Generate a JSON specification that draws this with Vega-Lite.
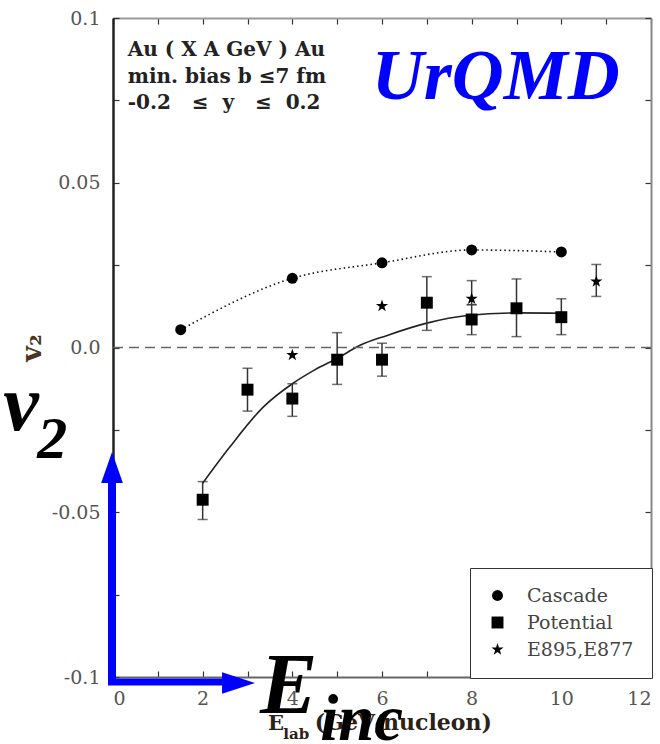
{
  "$schema": "https://vega.github.io/schema/vega-lite/v6.json",
  "width": 538,
  "height": 659,
  "autosize": {"type": "none"},
  "padding": {"left": 113, "top": 18, "right": 9, "bottom": 67},
  "background": "white",
  "config": {
    "view": {"stroke": null},
    "font": "DejaVu Serif",
    "axis": {"grid": false, "labelFont": "DejaVu Serif", "labelFontSize": 19, "labelColor": "#555", "tickSize": -6, "tickColor": "#333", "tickWidth": 1.2},
    "legend": {"orient": "none", "legendX": 357, "legendY": 550, "padding": 18, "strokeColor": "#333", "fillColor": "white", "labelFont": "DejaVu Serif", "labelFontSize": 19, "labelColor": "#444", "symbolFillColor": "black", "symbolStrokeColor": "black", "symbolStrokeWidth": 0, "rowPadding": 7, "labelOffset": 20}
  },
  "datasets": {
    "pts": [
      {"series": "Cascade", "x": 1.51, "y": 0.0054},
      {"series": "Cascade", "x": 4, "y": 0.021},
      {"series": "Cascade", "x": 6, "y": 0.0257},
      {"series": "Cascade", "x": 8, "y": 0.0296},
      {"series": "Cascade", "x": 10, "y": 0.029},
      {"series": "Potential", "x": 2, "y": -0.0462, "lo": -0.0522, "hi": -0.0407},
      {"series": "Potential", "x": 3, "y": -0.0128, "lo": -0.0193, "hi": -0.0063},
      {"series": "Potential", "x": 4, "y": -0.0155, "lo": -0.0209, "hi": -0.011},
      {"series": "Potential", "x": 5, "y": -0.0037, "lo": -0.0112, "hi": 0.0045},
      {"series": "Potential", "x": 6, "y": -0.0037, "lo": -0.0087, "hi": 0.0013},
      {"series": "Potential", "x": 7, "y": 0.0136, "lo": 0.0052, "hi": 0.0215},
      {"series": "Potential", "x": 8, "y": 0.0085, "lo": 0.0039, "hi": 0.013},
      {"series": "Potential", "x": 9, "y": 0.0119, "lo": 0.0033, "hi": 0.0208},
      {"series": "Potential", "x": 10, "y": 0.0092, "lo": 0.0039, "hi": 0.0148},
      {"series": "E895,E877", "x": 4, "y": -0.0023},
      {"series": "E895,E877", "x": 6, "y": 0.0126},
      {"series": "E895,E877", "x": 8, "y": 0.0148, "lo": 0.013, "hi": 0.0203},
      {"series": "E895,E877", "x": 10.78, "y": 0.02, "lo": 0.0155, "hi": 0.0252}
    ],
    "fit": [
      {"x": 2, "y": -0.0412},
      {"x": 2.6, "y": -0.0303},
      {"x": 3.35, "y": -0.0181},
      {"x": 4, "y": -0.011},
      {"x": 4.5, "y": -0.0068},
      {"x": 5, "y": -0.0033},
      {"x": 5.5, "y": 0.0006},
      {"x": 6.1, "y": 0.0036},
      {"x": 7, "y": 0.0074},
      {"x": 7.9, "y": 0.0097},
      {"x": 9, "y": 0.0105},
      {"x": 10, "y": 0.0104}
    ],
    "one": [{"k": 1}]
  },
  "layer": [
    {
      "data": {"name": "pts"},
      "transform": [{"filter": "datum.series == 'Cascade'"}],
      "mark": {"type": "line", "interpolate": "monotone", "strokeDash": [1.5, 3], "stroke": "#111", "strokeWidth": 1.6},
      "encoding": {
        "x": {"field": "x", "type": "quantitative", "scale": {"domain": [0, 12], "nice": false, "zero": false},
          "axis": {"orient": "bottom", "title": null, "values": [0,1,2,3,4,5,6,7,8,9,10,11,12], "labelExpr": "datum.value % 2 == 0 ? datum.label : ''", "labelPadding": 18, "domainColor": "#666", "domainWidth": 2}},
        "y": {"field": "y", "type": "quantitative", "scale": {"domain": [-0.1, 0.1], "nice": false, "zero": false},
          "axis": {"orient": "left", "title": "v₂", "titleFont": "DejaVu Serif", "titleFontSize": 27, "titleFontWeight": "bold", "titleColor": "#4a3520", "titlePadding": 5,
            "values": [-0.1, -0.075, -0.05, -0.025, 0, 0.025, 0.05, 0.075, 0.1],
            "labelExpr": "datum.value == 0.1 ? '0.1' : datum.value == 0.05 ? '0.05' : datum.value == 0 ? '0.0' : datum.value == -0.05 ? '-0.05' : datum.value == -0.1 ? '-0.1' : ''",
            "labelPadding": 19, "domainColor": "#222", "domainWidth": 2.5}}
      }
    },
    {
      "data": {"name": "fit"},
      "mark": {"type": "line", "interpolate": "monotone", "stroke": "#222", "strokeWidth": 1.6},
      "encoding": {
        "x": {"field": "x", "type": "quantitative", "axis": {"orient": "top", "title": null, "labels": false, "values": [0,1,2,3,4,5,6,7,8,9,10,11,12], "domainColor": "#999", "domainWidth": 2}},
        "y": {"field": "y", "type": "quantitative", "axis": {"orient": "right", "title": null, "labels": false, "values": [-0.1, -0.075, -0.05, -0.025, 0, 0.025, 0.05, 0.075, 0.1], "domainColor": "#888", "domainWidth": 2}}
      }
    },
    {
      "data": {"name": "one"},
      "mark": {"type": "rule", "stroke": "#666", "strokeWidth": 1.5, "strokeDash": [10, 6]},
      "encoding": {
        "x": {"datum": 0, "type": "quantitative", "axis": null},
        "x2": {"datum": 12},
        "y": {"datum": 0, "type": "quantitative", "axis": null}
      }
    },
    {
      "data": {"name": "pts"},
      "mark": {"type": "rule", "stroke": "#333", "strokeWidth": 1.5},
      "encoding": {
        "x": {"field": "x", "type": "quantitative", "axis": null},
        "y": {"field": "lo", "type": "quantitative", "axis": null},
        "y2": {"field": "hi"}
      }
    },
    {
      "data": {"name": "pts"},
      "mark": {"type": "tick", "orient": "horizontal", "size": 10, "thickness": 1.5, "color": "#333"},
      "encoding": {
        "x": {"field": "x", "type": "quantitative", "axis": null},
        "y": {"field": "lo", "type": "quantitative", "axis": null}
      }
    },
    {
      "data": {"name": "pts"},
      "mark": {"type": "tick", "orient": "horizontal", "size": 10, "thickness": 1.5, "color": "#333"},
      "encoding": {
        "x": {"field": "x", "type": "quantitative", "axis": null},
        "y": {"field": "hi", "type": "quantitative", "axis": null}
      }
    },
    {
      "data": {"name": "pts"},
      "mark": {"type": "point", "filled": true, "color": "black", "opacity": 1},
      "encoding": {
        "x": {"field": "x", "type": "quantitative", "axis": null},
        "y": {"field": "y", "type": "quantitative", "axis": null},
        "shape": {"field": "series", "type": "nominal",
          "scale": {"domain": ["Cascade", "Potential", "E895,E877"], "range": ["circle", "square", "M0,-1L0.2245,-0.309L0.951,-0.309L0.363,0.118L0.588,0.809L0,0.382L-0.588,0.809L-0.363,0.118L-0.951,-0.309L-0.2245,-0.309Z"]},
          "legend": {"title": null, "labelFont": "DejaVu Serif", "labelFontSize": 19, "labelColor": "#444"}},
        "size": {"field": "series", "type": "nominal", "scale": {"domain": ["Cascade", "Potential", "E895,E877"], "range": [120, 165, 120]}, "legend": {"title": null, "labelFont": "DejaVu Serif", "labelFontSize": 19, "labelColor": "#444"}}
      }
    },
    {
      "data": {"name": "one"},
      "mark": {"type": "text", "align": "left", "baseline": "alphabetic", "font": "DejaVu Serif", "fontWeight": "bold", "fontSize": 20, "color": "#222", "text": "Au ( X A GeV ) Au"},
      "encoding": {"x": {"datum": 0.33, "type": "quantitative", "axis": null}, "y": {"datum": 0.0886, "type": "quantitative", "axis": null}}
    },
    {
      "data": {"name": "one"},
      "mark": {"type": "text", "align": "left", "baseline": "alphabetic", "font": "DejaVu Serif", "fontWeight": "bold", "fontSize": 20, "color": "#222", "text": "min. bias b ≤7 fm"},
      "encoding": {"x": {"datum": 0.33, "type": "quantitative", "axis": null}, "y": {"datum": 0.0804, "type": "quantitative", "axis": null}}
    },
    {
      "data": {"name": "one"},
      "mark": {"type": "text", "align": "left", "baseline": "alphabetic", "font": "DejaVu Serif", "fontWeight": "bold", "fontSize": 20, "color": "#222", "text": "-0.2 \u00a0 ≤ \u00a0y \u00a0 ≤ \u00a00.2"},
      "encoding": {"x": {"datum": 0.33, "type": "quantitative", "axis": null}, "y": {"datum": 0.0725, "type": "quantitative", "axis": null}}
    },
    {
      "data": {"name": "one"},
      "mark": {"type": "text", "align": "left", "baseline": "alphabetic", "font": "Liberation Serif", "fontWeight": "bold", "fontStyle": "italic", "fontSize": 72, "color": "#0000ff", "text": "UrQMD"},
      "encoding": {"x": {"datum": 5.77, "type": "quantitative", "axis": null}, "y": {"datum": 0.0753, "type": "quantitative", "axis": null}}
    },
    {
      "data": {"name": "one"},
      "mark": {"type": "text", "align": "left", "baseline": "alphabetic", "font": "DejaVu Serif", "fontWeight": "bold", "fontSize": 21, "color": "#2b2118", "text": "E"},
      "encoding": {"x": {"datum": 3.46, "type": "quantitative", "axis": null}, "y": {"datum": -0.1162, "type": "quantitative", "axis": null}}
    },
    {
      "data": {"name": "one"},
      "mark": {"type": "text", "align": "left", "baseline": "alphabetic", "font": "DejaVu Serif", "fontWeight": "bold", "fontSize": 15, "color": "#2b2118", "text": "lab"},
      "encoding": {"x": {"datum": 3.8, "type": "quantitative", "axis": null}, "y": {"datum": -0.1187, "type": "quantitative", "axis": null}}
    },
    {
      "data": {"name": "one"},
      "mark": {"type": "text", "align": "left", "baseline": "alphabetic", "font": "DejaVu Serif", "fontWeight": "bold", "fontSize": 22, "color": "#2b2118", "text": "(GeV/nucleon)"},
      "encoding": {"x": {"datum": 4.5, "type": "quantitative", "axis": null}, "y": {"datum": -0.1162, "type": "quantitative", "axis": null}}
    },
    {
      "data": {"name": "one"},
      "mark": {"type": "rule", "stroke": "#0000ff", "strokeWidth": 8},
      "encoding": {"x": {"datum": -0.022, "type": "quantitative", "axis": null}, "y": {"datum": -0.1022, "type": "quantitative", "axis": null}, "y2": {"datum": -0.036}}
    },
    {
      "data": {"name": "one"},
      "mark": {"type": "rule", "stroke": "#0000ff", "strokeWidth": 7},
      "encoding": {"x": {"datum": -0.11, "type": "quantitative", "axis": null}, "x2": {"datum": 2.6}, "y": {"datum": -0.1015, "type": "quantitative", "axis": null}}
    },
    {
      "data": {"name": "one"},
      "mark": {"type": "point", "filled": true, "color": "#0000ff", "opacity": 1, "size": 961, "shape": "M0,-1L-0.7,1L0.7,1Z"},
      "encoding": {"x": {"datum": -0.022, "type": "quantitative", "axis": null}, "y": {"datum": -0.0364, "type": "quantitative", "axis": null}}
    },
    {
      "data": {"name": "one"},
      "mark": {"type": "point", "filled": true, "color": "#0000ff", "opacity": 1, "size": 1089, "shape": "M1,0L-1,-0.65L-1,0.65Z"},
      "encoding": {"x": {"datum": 2.8, "type": "quantitative", "axis": null}, "y": {"datum": -0.1018, "type": "quantitative", "axis": null}}
    },
    {
      "data": {"name": "one"},
      "mark": {"type": "text", "align": "left", "baseline": "alphabetic", "font": "Liberation Serif", "fontWeight": "bold", "fontStyle": "italic", "fontSize": 80, "color": "black", "text": "v"},
      "encoding": {"x": {"datum": -2.45, "type": "quantitative", "axis": null}, "y": {"datum": -0.0249, "type": "quantitative", "axis": null}}
    },
    {
      "data": {"name": "one"},
      "mark": {"type": "text", "align": "left", "baseline": "alphabetic", "font": "Liberation Serif", "fontWeight": "bold", "fontStyle": "italic", "fontSize": 60, "color": "black", "text": "2"},
      "encoding": {"x": {"datum": -1.69, "type": "quantitative", "axis": null}, "y": {"datum": -0.0334, "type": "quantitative", "axis": null}}
    },
    {
      "data": {"name": "one"},
      "mark": {"type": "text", "align": "left", "baseline": "alphabetic", "font": "Liberation Serif", "fontWeight": "bold", "fontStyle": "italic", "fontSize": 86, "color": "black", "text": "E"},
      "encoding": {"x": {"datum": 3.28, "type": "quantitative", "axis": null}, "y": {"datum": -0.1108, "type": "quantitative", "axis": null}}
    },
    {
      "data": {"name": "one"},
      "mark": {"type": "text", "align": "left", "baseline": "alphabetic", "font": "Liberation Serif", "fontWeight": "bold", "fontStyle": "italic", "fontSize": 65, "color": "black", "text": "inc"},
      "encoding": {"x": {"datum": 4.62, "type": "quantitative", "axis": null}, "y": {"datum": -0.119, "type": "quantitative", "axis": null}}
    }
  ],
  "resolve": {"axis": {"x": "independent", "y": "independent"}}
}
